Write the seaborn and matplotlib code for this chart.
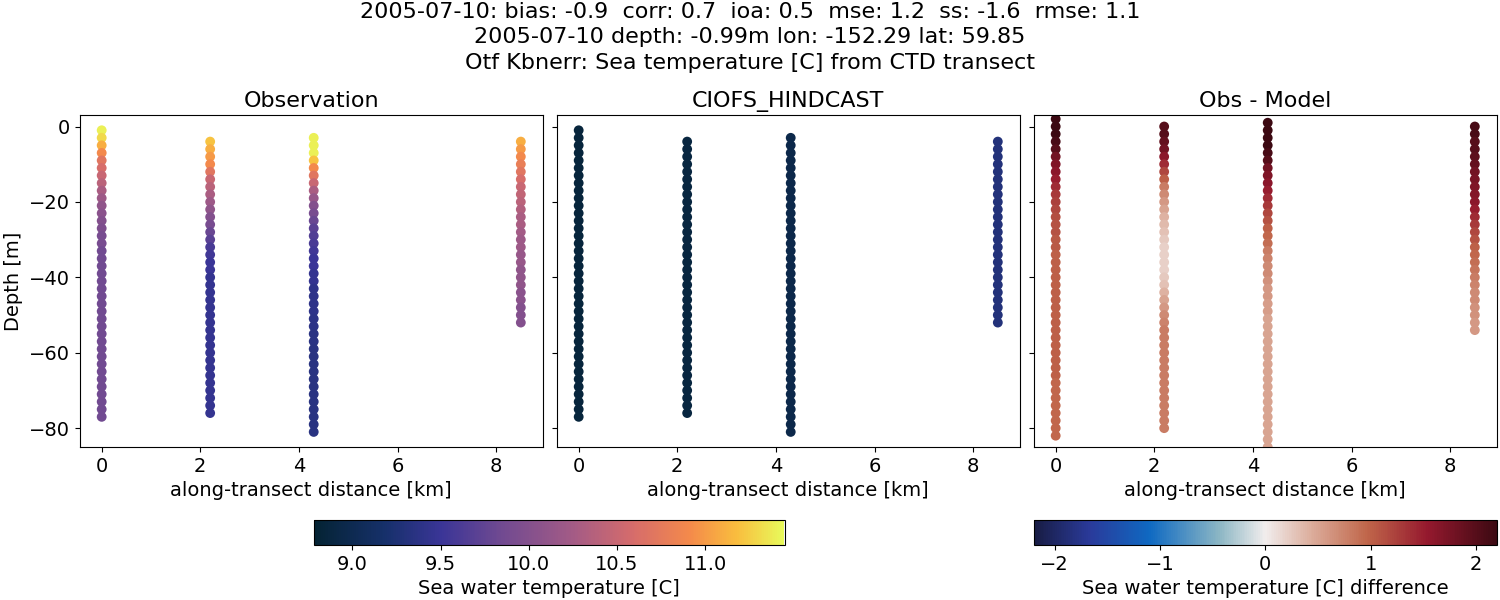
import numpy as np
import pandas as pd
import matplotlib
matplotlib.use("Agg")
import matplotlib.pyplot as plt
from matplotlib.colors import LinearSegmentedColormap, Normalize
import seaborn as sns

# ---- data ----
stations_km = [0.0, 2.2, 4.3, 8.5]
obs_top = [-1, -4, -3, -4]
obs_temp = [
    [11.4,11.3,11.1,10.9,10.7,10.6,10.5,10.4,10.3,10.2,10.1,10.05,10.0,9.95,9.9,9.9,9.85,9.85,9.85,9.85,
     9.85,9.85,9.85,9.85,9.85,9.85,9.85,9.85,9.85,9.85,9.85,9.85,9.85,9.85,9.85,9.85,9.85,9.85,9.85],
    [11.2,11.1,11.0,10.9,10.7,10.5,10.4,10.3,10.2,10.1,10.0,9.9,9.8,9.7,9.6,9.55,9.5,9.5,9.45,9.45,
     9.45,9.45,9.45,9.45,9.45,9.45,9.45,9.45,9.45,9.45,9.45,9.45,9.45,9.45,9.45,9.45,9.45],
    [11.4,11.4,11.4,11.2,10.9,10.7,10.5,10.3,10.15,10.0,9.9,9.8,9.7,9.65,9.6,9.55,9.5,9.5,9.45,9.45,
     9.4,9.4,9.4,9.4,9.38,9.38,9.36,9.36,9.35,9.35,9.35,9.35,9.35,9.35,9.35,9.35,9.35,9.35,9.35,9.35],
    [11.1,11.0,10.9,10.8,10.7,10.6,10.5,10.45,10.4,10.35,10.3,10.3,10.25,10.2,10.2,10.15,10.15,10.1,10.1,10.1,
     10.05,10.05,10.0,10.0,10.0],
]
model_temp = [
    [8.85]*39,
    [8.88]*37,
    [8.95]*40,
    [9.3]*25,
]
diff_top = [2, 0, 1, 0]
diff_vals = [
    [2.2,2.2,2.2,2.1,2.0,1.8,1.7,1.6,1.5,1.4,1.3,1.25,1.2,1.15,1.1,1.1,1.05,1.05,1.0,1.0,
     1.0,1.0,1.0,1.0,1.0,1.0,1.0,1.0,1.0,1.0,1.0,1.0,1.0,1.0,1.0,0.95,0.95,0.95,0.95,0.95,0.95,0.95,0.95],
    [2.0,2.0,1.9,1.8,1.6,1.4,1.2,1.0,0.8,0.7,0.6,0.5,0.4,0.35,0.3,0.25,0.2,0.2,0.2,0.2,
     0.25,0.3,0.4,0.5,0.6,0.7,0.75,0.8,0.8,0.8,0.8,0.8,0.8,0.8,0.8,0.8,0.8,0.8,0.8,0.8,0.8],
    [2.2,2.2,2.2,2.2,2.1,2.0,1.8,1.7,1.6,1.5,1.4,1.3,1.2,1.1,1.0,0.95,0.9,0.8,0.75,0.7,
     0.7,0.65,0.6,0.6,0.55,0.55,0.5,0.5,0.5,0.5,0.5,0.5,0.5,0.5,0.5,0.5,0.5,0.5,0.5,0.5,0.5,0.5,0.5,0.5],
    [2.1,2.1,2.0,2.0,1.95,1.9,1.8,1.75,1.7,1.65,1.6,1.5,1.4,1.3,1.2,1.1,1.0,0.95,0.9,0.85,
     0.8,0.75,0.7,0.7,0.65,0.65,0.6,0.6],
]
step_m = 2

def frame(values, tops):
    rows = []
    for x, top, vals in zip(stations_km, tops, values):
        for i, v in enumerate(vals):
            rows.append((x, top - step_m * i, v))
    return pd.DataFrame(rows, columns=["x", "depth", "v"])

df_obs = frame(obs_temp, obs_top)
df_mod = frame(model_temp, obs_top)
df_diff = frame(diff_vals, diff_top)

thermal = LinearSegmentedColormap.from_list("thermal", [
    (0.0, "#042333"), (0.15, "#16306a"), (0.27, "#3a3597"), (0.4, "#714a91"),
    (0.55, "#a35b86"), (0.68, "#d66c6b"), (0.8, "#f48a4b"), (0.9, "#f9bd3e"), (1.0, "#e8fa5b")])
balance = LinearSegmentedColormap.from_list("balance", [
    (0.0, "#181c43"), (0.12, "#2a3a9a"), (0.25, "#0f69c2"), (0.4, "#8bb6c4"), (0.5, "#f1eded"),
    (0.6, "#dcad9c"), (0.72, "#c0664a"), (0.85, "#95192e"), (1.0, "#3c0912")])
tnorm = Normalize(8.78, 11.45)
dnorm = Normalize(-2.2, 2.2)

plt.rcParams["font.size"] = 14
fig = plt.figure(figsize=(15, 6), dpi=100)
axw, axh, axb = 0.309, 0.553, 0.255
axes = [fig.add_axes([l, axb, axw, axh]) for l in (0.053, 0.371, 0.689)]
specs = [(df_obs, thermal, tnorm, "Observation"), (df_mod, thermal, tnorm, "CIOFS_HINDCAST"),
         (df_diff, balance, dnorm, "Obs - Model")]
for i, (ax, (d, cm, nm, title)) in enumerate(zip(axes, specs)):
    sns.scatterplot(data=d, x="x", y="depth", hue="v", palette=cm, hue_norm=nm,
                    s=50, linewidth=0, legend=False, ax=ax)
    ax.set_xlim(-0.45, 8.95)
    ax.set_ylim(-85, 3)
    ax.set_xticks([0, 2, 4, 6, 8])
    ax.set_yticks([-80, -60, -40, -20, 0])
    ax.set_title(title, fontsize=16)
    ax.set_xlabel("along-transect distance [km]")
    if i == 0:
        ax.set_ylabel("Depth [m]")
    else:
        ax.set_ylabel("")
        ax.set_yticklabels([])

cax1 = fig.add_axes([0.209, 0.092, 0.314, 0.042])
cb1 = fig.colorbar(plt.cm.ScalarMappable(norm=tnorm, cmap=thermal), cax=cax1, orientation="horizontal")
cb1.set_label("Sea water temperature [C]")
cb1.set_ticks([9.0, 9.5, 10.0, 10.5, 11.0])
cax2 = fig.add_axes([0.689, 0.092, 0.309, 0.042])
cb2 = fig.colorbar(plt.cm.ScalarMappable(norm=dnorm, cmap=balance), cax=cax2, orientation="horizontal")
cb2.set_label("Sea water temperature [C] difference")
cb2.set_ticks([-2, -1, 0, 1, 2])

fig.suptitle("2005-07-10: bias: -0.9  corr: 0.7  ioa: 0.5  mse: 1.2  ss: -1.6  rmse: 1.1\n"
             "2005-07-10 depth: -0.99m lon: -152.29 lat: 59.85\n"
             "Otf Kbnerr: Sea temperature [C] from CTD transect", fontsize=16, y=0.997,
             linespacing=1.35)
fig.savefig("out.png", dpi=100)
